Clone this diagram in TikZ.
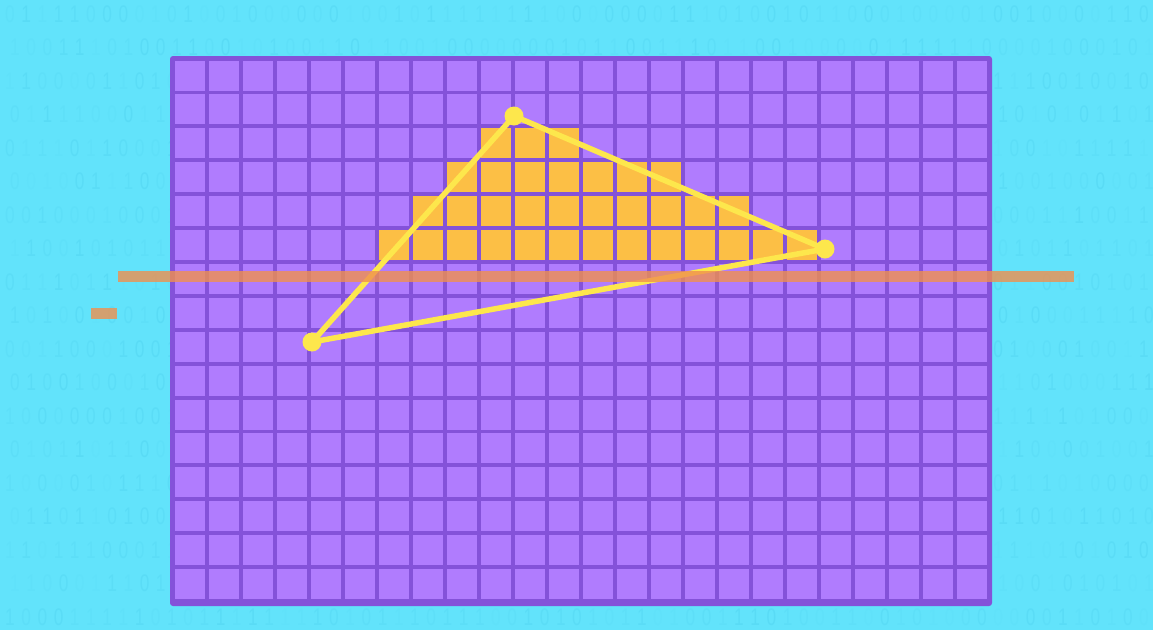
\documentclass[tikz,border=0pt]{standalone}
\usepackage{fontspec}
\setmainfont{Liberation Sans}
\definecolor{bgcyan}{HTML}{62E3FB}
\definecolor{digitc}{HTML}{3CC2E4}
\definecolor{framec}{HTML}{8452D9}
\definecolor{cellc}{HTML}{B07CFE}
\definecolor{hitc}{HTML}{FCBF45}
\definecolor{tric}{HTML}{FDE74C}
\definecolor{barc}{HTML}{F0904E}
\tikzset{
  bit/.style={inner sep=0pt, text=digitc, xscale=0.72, font=\fontsize{24}{24}\selectfont},
  gridframe/.style={fill=framec, rounded corners=3pt, inner sep=0pt, outer sep=0pt},
  cellbox/.style={fill=cellc},
  hitbox/.style={fill=hitc},
  triline/.style={draw=tric, line width=5.5pt, line join=round},
  vertexdot/.style={circle, fill=tric, minimum size=19pt, inner sep=0pt},
  scanbar/.style={fill=barc, fill opacity=0.8, inner sep=0pt, outer sep=0pt}
}
\begin{document}
\begin{tikzpicture}[x=1pt,y=-1pt]
\useasboundingbox (0,0) rectangle (1153,630);
\fill[bgcyan] (0,0) rectangle (1153,630);
% faint binary background
\pgfmathsetseed{42}
\foreach \r in {0,...,18}{
  \foreach \c in {0,...,70}{
    \pgfmathrandominteger{\d}{0}{1}
    \pgfmathsetmacro{\op}{0.03+0.2*rnd}
    \node[bit, opacity=\op] (b-\r-\c) at ({10+16.2*\c+5*mod(\r,2)},{14+33.5*\r}) {\d};
  }
}
% pixel grid
\node[gridframe, minimum width=822pt, minimum height=550pt] (grid) at (581,331) {};
\foreach \i in {0,...,23}{
  \foreach \j in {0,...,15}{
    \fill[cellbox] ({175+34*\i},{60.5+33.9*\j}) rectangle ++(30,30);
  }
}
% rasterised cells
\foreach \j/\a/\b in {2/9/11,3/8/14,4/7/16,5/6/18}{
  \foreach \i in {\a,...,\b}{
    \fill[hitbox] ({175+34*\i},{60.5+33.9*\j}) rectangle ++(30,30);
  }
}
% triangle
\coordinate (A) at (514,116);
\coordinate (B) at (825,249);
\coordinate (C) at (312,342);
\draw[triline] (A) -- (B) -- (C) -- cycle;
\node[vertexdot] (vA) at (A) {};
\node[vertexdot] (vB) at (B) {};
\node[vertexdot] (vC) at (C) {};
% scan line
\node[scanbar, minimum width=956pt, minimum height=11pt] (scan) at (596,276.5) {};
\node[scanbar, minimum width=26pt, minimum height=11pt] (tick) at (104,313.5) {};
\end{tikzpicture}
\end{document}
